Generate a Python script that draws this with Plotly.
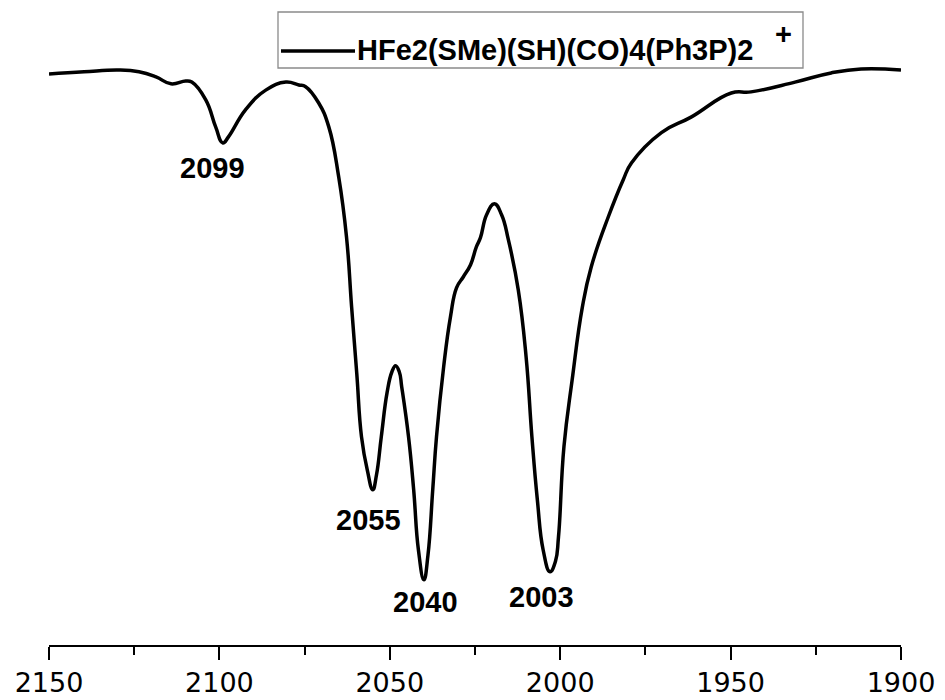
import plotly.graph_objects as go

# IR spectrum in the carbonyl region (wavenumber in cm-1, transmittance in %)
wavenumber = [2150.0, 2139.7, 2129.5, 2123.6, 2118.6, 2114.2, 2109.9, 2108.1, 2104.0, 2101.1,
              2099.0, 2097.3, 2092.3, 2086.4, 2080.5, 2076.7, 2074.7, 2070.9, 2067.9, 2065.0,
              2062.7, 2061.2, 2059.7, 2058.3, 2056.6, 2055.0, 2053.9, 2052.5, 2050.8, 2049.4,
              2048.3, 2047.2, 2046.5, 2044.5, 2043.0, 2041.6, 2040.0, 2038.8, 2037.4, 2036.3,
              2034.2, 2032.2, 2030.4, 2028.4, 2026.3, 2024.6, 2023.4, 2021.6, 2019.3, 2017.2,
              2015.2, 2012.3, 2010.0, 2008.3, 2006.7, 2005.0, 2003.0, 2001.4, 2000.5, 1998.9,
              1996.5, 1993.5, 1990.9, 1985.9, 1981.5, 1979.1, 1970.3, 1961.6, 1949.8, 1944.0,
              1931.1, 1920.5, 1911.7, 1900.0]
transmittance = [99.1, 99.5, 99.8, 99.5, 98.6, 97.4, 97.9, 97.7, 94.6, 89.9,
                 87.1, 88.2, 92.9, 96.3, 97.7, 97.2, 96.9, 94.1, 89.9, 81.2,
                 70.7, 58.5, 47.0, 35.9, 30.1, 26.7, 29.3, 35.9, 43.6, 47.2,
                 48.3, 47.2, 44.6, 35.9, 26.7, 16.2, 11.0, 15.3, 26.7, 35.9,
                 48.1, 56.8, 61.9, 63.8, 65.9, 69.0, 70.6, 74.6, 76.5, 74.6,
                 70.2, 61.5, 49.8, 35.9, 24.9, 16.2, 12.4, 14.2, 18.5, 34.2,
                 45.8, 58.5, 65.5, 74.2, 80.7, 83.6, 88.9, 91.6, 95.8, 96.0,
                 97.7, 99.3, 100.0, 99.8]

# labelled band positions (cm-1)
peak_labels = [2099, 2055, 2040, 2003]
# label offsets from the band minimum, in pixels (x, y)
label_shift = [(-10, -25), (-4, -30), (2, -22), (-8, -25)]

tick_values = [2150, 2100, 2050, 2000, 1950, 1900]
series_name = "HFe2(SMe)(SH)(CO)4(Ph3P)2"

W, H = 945, 700
ML, MR, MT, MB = 49, 44, 0, 55
PW, PH = W - ML - MR, H - MT - MB
FONT = "Liberation Sans, Arial, sans-serif"


def px(x):
    return (x - ML) / PW


def py(y):
    return (H - MB - y) / PH


fig = go.Figure()
fig.add_trace(go.Scatter(
    x=wavenumber, y=transmittance, mode="lines", name=series_name,
    line=dict(color="black", width=3.5, shape="spline", smoothing=1.3),
    showlegend=False, hoverinfo="x+y",
))

annotations = []
for wn, (dx, dy) in zip(peak_labels, label_shift):
    t = transmittance[wavenumber.index(float(wn))]
    annotations.append(dict(
        x=wn, y=t, xref="x", yref="y", text=f"<b>{wn}</b>", showarrow=False,
        xanchor="center", yanchor="middle", xshift=dx, yshift=dy,
        font=dict(family=FONT, size=29, color="black"),
    ))

# legend drawn as a framed key
annotations.append(dict(
    x=px(355), y=py(50), xref="paper", yref="paper", text=f"<b>{series_name}</b>",
    showarrow=False, xanchor="left", yanchor="middle",
    font=dict(family=FONT, size=29, color="black"),
))
annotations.append(dict(
    x=px(783), y=py(34), xref="paper", yref="paper", text="<b>+</b>",
    showarrow=False, xanchor="center", yanchor="middle",
    font=dict(family=FONT, size=29, color="black"),
))

shapes = [
    dict(type="rect", xref="paper", yref="paper", x0=px(278), x1=px(803), y0=py(68), y1=py(12),
         line=dict(color="#8a8a8a", width=1.3), fillcolor="rgba(0,0,0,0)"),
    dict(type="line", xref="paper", yref="paper", x0=px(281), x1=px(355), y0=py(51), y1=py(51),
         line=dict(color="black", width=3.5)),
]

fig.update_layout(
    width=W, height=H,
    margin=dict(l=ML, r=MR, t=MT, b=MB, pad=0),
    paper_bgcolor="white", plot_bgcolor="white",
    annotations=annotations, shapes=shapes,
    xaxis=dict(
        range=[2150, 1900], tickvals=tick_values, ticktext=[str(v) for v in tick_values],
        showgrid=False, zeroline=False, showline=True, linecolor="black", linewidth=1.6,
        ticks="outside", ticklen=13, tickwidth=1.6, tickcolor="black",
        minor=dict(ticks="outside", ticklen=8, tickwidth=1.6, tickcolor="black", dtick=25,
                   tick0=2150, showgrid=False),
        tickfont=dict(family="DejaVu Sans, Liberation Sans, sans-serif", size=27, color="black"),
        ticklabelstandoff=0,
    ),
    yaxis=dict(range=[-0.35, 112.0], visible=False, showgrid=False, zeroline=False),
)

fig.write_html("out.html")
